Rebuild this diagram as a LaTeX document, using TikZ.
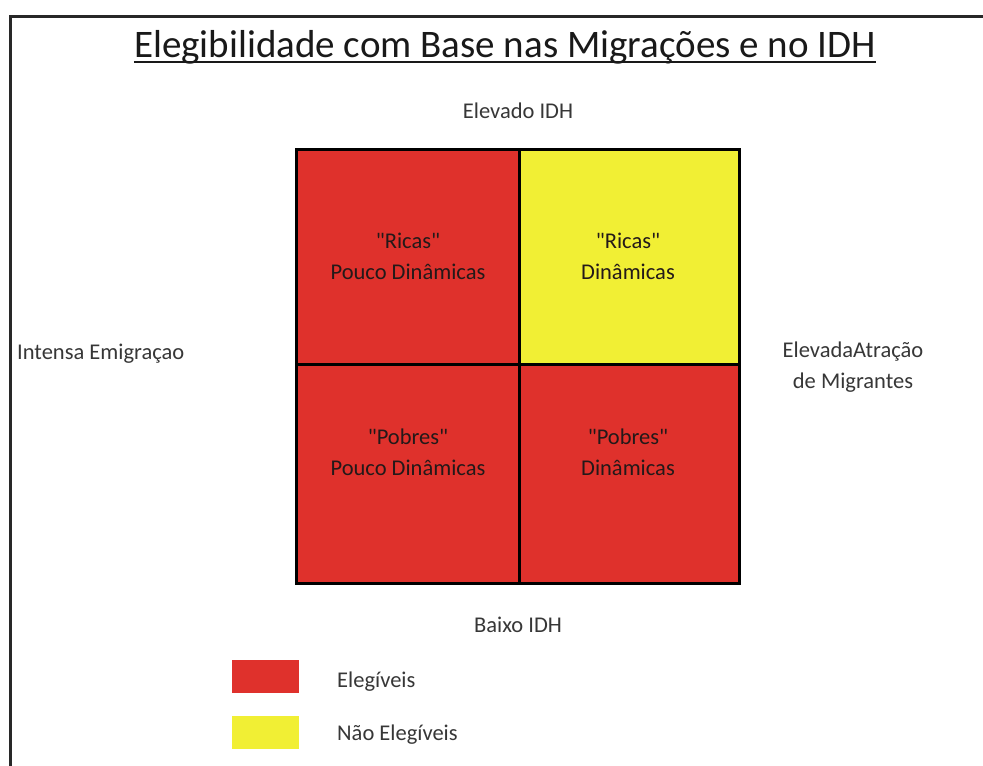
\documentclass[tikz,border=0pt]{standalone}
\usepackage{fontspec}
\setmainfont{Carlito}
\definecolor{qred}{RGB}{223,49,44}
\definecolor{qyellow}{RGB}{241,239,52}
\definecolor{lbltxt}{RGB}{55,55,55}
\definecolor{qtxt}{RGB}{35,25,25}
\definecolor{framecol}{RGB}{40,40,40}
\newcommand{\dq}{\XeTeXglyph\XeTeXcharglyph"0022\relax}
\begin{document}
\begin{tikzpicture}[x=1pt,y=-1pt,
  quad/.style={draw=black, line width=2.5pt, inner sep=0pt, anchor=north west},
  qtext/.style={text=qtxt, font=\fontsize{22.5}{31}\selectfont, inner sep=0pt, align=center},
  lbl/.style={text=lbltxt, font=\fontsize{22.5}{31}\selectfont, inner sep=0pt, align=center},
  keybox/.style={minimum width=67pt, minimum height=33pt, inner sep=0pt, anchor=north west},
  framedge/.style={draw=framecol, line width=3pt}]
\useasboundingbox (0,0) rectangle (983,766);
\fill[white] (0,0) rectangle (983,766);
% frame
\coordinate (fbl) at (10,766);
\coordinate (ftl) at (10,16);
\coordinate (ftr) at (983,16);
\draw[framedge] (fbl) -- (ftl) -- (ftr);
% title
\node[font=\fontsize{39}{46}\selectfont, text=black!90, inner sep=0pt, anchor=base] (title) at (505,57) {Elegibilidade com Base nas Migrações e no IDH};
\draw[line width=2.5pt, black!90] ([yshift=-5pt]title.base west) -- ([yshift=-5pt]title.base east);
% quadrants
\node[quad, fill=qred, minimum width=223pt, minimum height=215pt] (q1) at (295,148) {};
\node[quad, fill=qyellow, minimum width=220pt, minimum height=215pt] (q2) at (518,148) {};
\node[quad, fill=qred, minimum width=223pt, minimum height=219pt] (q3) at (295,363) {};
\node[quad, fill=qred, minimum width=220pt, minimum height=219pt] (q4) at (518,363) {};
\node[qtext] (t1) at (408,256) {\dq Ricas\dq\\Pouco Dinâmicas};
\node[qtext] (t2) at (628,256) {\dq Ricas\dq\\Dinâmicas};
\node[qtext] (t3) at (408,452) {\dq Pobres\dq\\Pouco Dinâmicas};
\node[qtext] (t4) at (628,452) {\dq Pobres\dq\\Dinâmicas};
% axis labels
\node[lbl, anchor=base] (top) at (518,118) {Elevado IDH};
\node[lbl, anchor=base] (bottom) at (518,632) {Baixo IDH};
\node[lbl, anchor=base west] (left) at (17,359) {Intensa Emigraçao};
\node[lbl] (right) at (853,367) {ElevadaAtração\\de Migrantes};
% legend
\node[keybox, fill=qred] (k1) at (232,660) {};
\node[keybox, fill=qyellow] (k2) at (232,716) {};
\node[lbl, anchor=base west] (l1) at (337,687) {Elegíveis};
\node[lbl, anchor=base west] (l2) at (337,740) {Não Elegíveis};
\end{tikzpicture}
\end{document}
